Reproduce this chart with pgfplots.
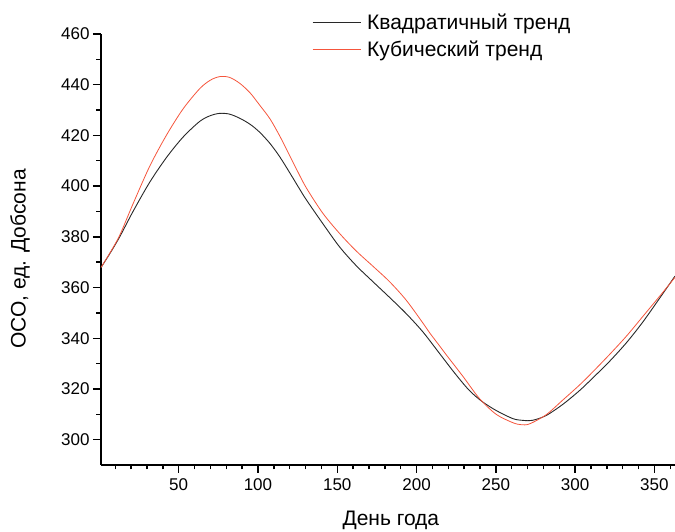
\documentclass[border=0pt]{standalone}
\usepackage{pgfplots}
\pgfplotsset{compat=1.18}
\usepackage{fontspec}
\setmainfont{Liberation Sans}
\definecolor{cubred}{RGB}{245,85,60}
\definecolor{quadblk}{RGB}{40,40,40}
\begin{document}
\begin{tikzpicture}
\begin{axis}[name=ax,
  scale only axis, width=574pt, height=431pt,
  xmin=1, xmax=363, ymin=290, ymax=460,
  axis x line*=bottom, axis y line*=left,
  axis line style={line width=1.6pt,-},
  tick style={line width=1.4pt, black},
  major tick length=8pt, minor tick length=4.5pt,
  tick align=outside,
  xtick={50,100,...,350}, minor xtick={10,20,...,360},
  ytick={300,320,...,460}, minor ytick={310,330,...,450},
  /pgf/number format/assume math mode=true,
  ticklabel style={font=\fontsize{17}{17}\selectfont},
  xticklabel style={yshift=-2pt},
  xlabel={День года}, ylabel={ОСО, ед. Добсона},
  xlabel style={font=\fontsize{21}{21}\selectfont, at={(axis description cs:0.505,-0.141)}, anchor=base},
  ylabel style={font=\fontsize{21}{21}\selectfont, at={(axis description cs:-0.141,0.478)}, anchor=center},
  legend style={draw=none, fill=none, font=\fontsize{21}{25}\selectfont,
    at={(axis description cs:0.3676,1.052)}, anchor=north west,
    row sep=6pt, inner sep=0pt},
  legend cell align=left,
  legend image code/.code={\draw[#1] (0pt,0pt) -- (48pt,0pt); \path (52pt,0pt);},
  clip=false,
]
\addplot[quadblk, line width=0.9pt, smooth, tension=0.5] coordinates {
(1,367.9) (6.5,373.3) (12.8,380.0) (21.2,390.0) (31.7,401.5) (42.2,411.2) (52.7,419.3)
(63.2,425.5) (70,427.8) (76,428.7) (82,428.4) (88.4,426.8) (95,424.4) (101,421.3)
(107.6,416.8) (113.7,411.6) (120,405.3) (126.3,398.8) (130.5,394.6) (140.9,385.2)
(151.5,376.0) (162,368.6) (172.5,362.3) (183,356.1) (193.5,349.7) (204,342.5)
(214.5,334.0) (224,326.3) (233,319.6) (241,315.2) (250.2,311.5) (260.7,308.3)
(267,307.6) (273,307.6) (281.7,309.5) (292.2,313.9) (302.7,319.3) (311.1,324.3)
(321.6,330.8) (332.2,338.1) (342.6,346.3) (353.1,355.6) (363,364.5)
};
\addlegendentry{Квадратичный тренд}
\addplot[cubred, line width=0.8pt, smooth, tension=0.5] coordinates {
(1,367.9) (6.5,373.5) (12.8,380.6) (21.2,393.0) (31.7,407.8) (42.2,420.0) (52.7,430.4)
(63.2,438.4) (70,441.8) (76,443.2) (82,442.9) (88.4,440.6) (95,436.8) (101,432.0)
(107.6,426.5) (113.7,419.8) (119,413.3) (124.2,406.8) (130.5,399.3) (140.9,389.3)
(151.5,381.3) (162,374.4) (172.5,368.4) (183,362.3) (193.5,355.0) (204,346.0)
(208.2,342.2) (214.5,337.0) (218.7,333.5) (229.2,325.0) (239.7,316.2) (250.2,310.0)
(260.7,306.7) (266,305.9) (271.2,306.2) (281.7,309.8) (292.2,315.6) (302.7,321.5)
(311.1,326.7) (321.6,333.5) (332.2,340.7) (342.6,348.5) (353.1,356.4) (363,364.0)
};
\addlegendentry{Кубический тренд}
\end{axis}
\pgfresetboundingbox
\path ([shift={(-101pt,-67pt)}]ax.south west) rectangle ([shift={(0pt,34pt)}]ax.north east);
\end{tikzpicture}
\end{document}
